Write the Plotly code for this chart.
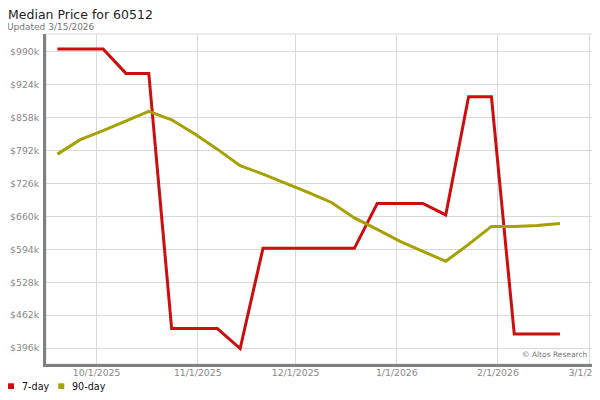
import plotly.graph_objects as go

# weekly sample dates
dates = ["2025-09-19", "2025-09-26", "2025-10-03", "2025-10-10", "2025-10-17",
         "2025-10-24", "2025-10-31", "2025-11-07", "2025-11-14", "2025-11-21",
         "2025-11-28", "2025-12-05", "2025-12-12", "2025-12-19", "2025-12-26",
         "2026-01-02", "2026-01-09", "2026-01-16", "2026-01-23", "2026-01-30",
         "2026-02-06", "2026-02-13", "2026-02-20"]

# median price, in dollars
seven_day = [996000, 996000, 996000, 947000, 947000, 435000, 435000, 435000,
             395000, 596000, 596000, 596000, 596000, 596000, 686000, 686000,
             686000, 663000, 900000, 900000, 424000, 424000, 424000]
ninety_day = [785000, 814000, 832000, 851000, 871000, 854000, 826000, 795000,
              762000, 745000, 727000, 708000, 688000, 657000, 634000, 610000,
              590000, 570000, 604000, 640000, 640000, 642000, 646000]

y_ticks = [396000, 462000, 528000, 594000, 660000, 726000, 792000, 858000, 924000, 990000]
y_labels = ["$396k", "$462k", "$528k", "$594k", "$660k", "$726k", "$792k", "$858k", "$924k", "$990k"]
x_ticks = ["2025-10-01", "2025-11-01", "2025-12-01", "2026-01-01", "2026-02-01", "2026-03-01"]
x_labels = ["10/1/2025", "11/1/2025", "12/1/2025", "1/1/2026", "2/1/2026", "3/1/2026"]

RED = "#cc0e0e"
OLIVE = "#a6a000"

# the page body has an 8px margin, so the figure is drawn 8px smaller
W, H = 592, 392
L, R, T, B = 38, 7, 26, 36
PW, PH = W - L - R, H - T - B


def px(x):
    # figure pixel -> paper x
    return (x - L) / PW


def py(y):
    # figure pixel -> paper y
    return (H - B - y) / PH


fig = go.Figure()
fig.add_trace(go.Scatter(x=dates, y=seven_day, mode="lines", name="7-day",
                         line=dict(color=RED, width=3)))
fig.add_trace(go.Scatter(x=dates, y=ninety_day, mode="lines", name="90-day",
                         line=dict(color=OLIVE, width=3)))

# legend below the plot: small squares + labels
legend_items = [("7-day", RED, 0), ("90-day", OLIVE, 50.3)]
shapes = [dict(type="rect", xref="paper", yref="paper", x0=0, x1=1, y0=0, y1=1,
               line=dict(color="#d9d9d9", width=1), layer="below")]
annotations = [
    dict(text="Updated 3/15/2026", xref="paper", yref="paper",
         x=px(-3), y=py(18.5), xanchor="left", yanchor="middle",
         showarrow=False, font=dict(size=9, color="#777777")),
    dict(text="© Altos Research", xref="paper", yref="paper",
         x=px(582), y=py(346), xanchor="right", yanchor="middle",
         showarrow=False, font=dict(size=7.5, color="#777777")),
]
for nm, col, x0 in legend_items:
    shapes.append(dict(type="rect", xref="paper", yref="paper",
                       x0=px(x0), x1=px(x0 + 6), y0=py(381), y1=py(375.3),
                       fillcolor=col, line=dict(width=0)))
    annotations.append(dict(text=nm, xref="paper", yref="paper",
                            x=px(x0 + 12), y=py(378.7), xanchor="left", yanchor="middle",
                            showarrow=False, font=dict(size=9.6, color="#111111")))

fig.update_layout(
    width=W, height=H,
    margin=dict(l=L, r=R, t=T, b=B, autoexpand=False),
    paper_bgcolor="white", plot_bgcolor="white",
    font=dict(family="DejaVu Sans", size=9.3, color="#888888"),
    title=dict(text="Median Price for 60512", font=dict(size=12.5, color="#222222"),
               xref="container", x=0, xanchor="left",
               yref="container", y=1-7/H, yanchor="middle"),
    showlegend=False,
    xaxis=dict(type="date", range=["2025-09-15 12:00", "2026-03-02 03:00"],
               tickvals=x_ticks, ticktext=x_labels, ticklabeloverflow="allow",
               showgrid=True, gridcolor="#d9d9d9", gridwidth=1,
               showline=True, linecolor="#808080", linewidth=3,
               ticks="", ticklabelstandoff=-2, zeroline=False),
    yaxis=dict(range=[364000, 1026000], tickvals=y_ticks, ticktext=y_labels,
               showgrid=True, gridcolor="#d9d9d9", gridwidth=1,
               showline=True, linecolor="#808080", linewidth=3,
               ticks="", ticklabelstandoff=2, zeroline=False),
    shapes=shapes,
    annotations=annotations,
)

fig.write_html("out.html")
